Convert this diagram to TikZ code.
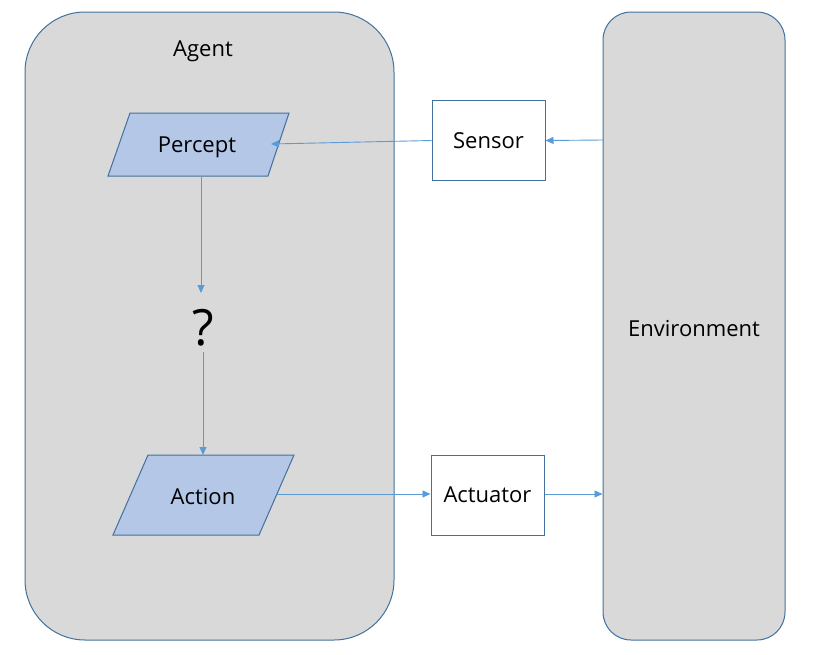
\documentclass[tikz,border=0pt]{standalone}
\usepackage{fontspec}
\setmainfont{Open Sans}
\usetikzlibrary{arrows.meta}
\definecolor{panelfill}{HTML}{D9D9D9}
\definecolor{panelline}{HTML}{41719C}
\definecolor{parafill}{HTML}{B4C7E7}
\definecolor{arrowcol}{HTML}{5B9BD5}
\tikzset{
  panel/.style={fill=panelfill,draw=panelline,line width=1pt},
  para/.style={fill=parafill,draw=panelline,line width=1pt},
  boxnode/.style={draw=panelline,fill=white,line width=1pt,minimum width=113pt,minimum height=80pt,font=\fontsize{22}{26}\selectfont,inner sep=0pt},
  lab/.style={font=\fontsize{22}{26}\selectfont,inner sep=0pt},
  conn/.style={draw=arrowcol,line width=0.9pt,-{Triangle[length=8pt,width=7pt]}},
}
\begin{document}
\begin{tikzpicture}[x=1pt,y=-1pt]
\useasboundingbox (0,0) rectangle (814,654);
% panels
\draw[panel,rounded corners=60pt] (25,12) rectangle (394,640);
\draw[panel,rounded corners=28pt] (603,12) rectangle (785,640);
\node[lab] (agent) at (203,51) {Agent};
\node[lab] (env) at (694,329) {Environment};
% parallelograms
\draw[para] (130,113) -- (289,113) -- (268,176) -- (108,176) -- cycle;
\node[lab] (percept) at (197,147) {Percept};
\draw[para] (148,455) -- (294,455) -- (259,535) -- (113,535) -- cycle;
\node[lab] (action) at (203,497) {Action};
\coordinate (perceptR) at (271,144);
\coordinate (perceptB) at (201,176);
\coordinate (actionT) at (203,455);
\coordinate (actionR) at (277,494);
% question
\node[font=\fontsize{50}{56}\selectfont,inner sep=0pt] (q) at (203,328) {?};
\coordinate (qT) at (201,293);
\coordinate (qB) at (203,352);
% boxes
\node[boxnode] (sensor) at (488.5,140.5) {Sensor};
\node[boxnode] (actuator) at (487.5,495) {Actuator};
\coordinate (envS) at (603,140);
\coordinate (envA) at (602.5,494);
% connectors
\draw[conn] (perceptB) -- (qT);
\draw[conn] (qB) -- (actionT);
\draw[conn] (sensor.west) -- (perceptR);
\draw[conn] (envS) -- (sensor.east);
\draw[conn] (actionR) -- (actuator.west |- actionR);
\draw[conn] (actuator.east |- envA) -- (envA);
\end{tikzpicture}
\end{document}
